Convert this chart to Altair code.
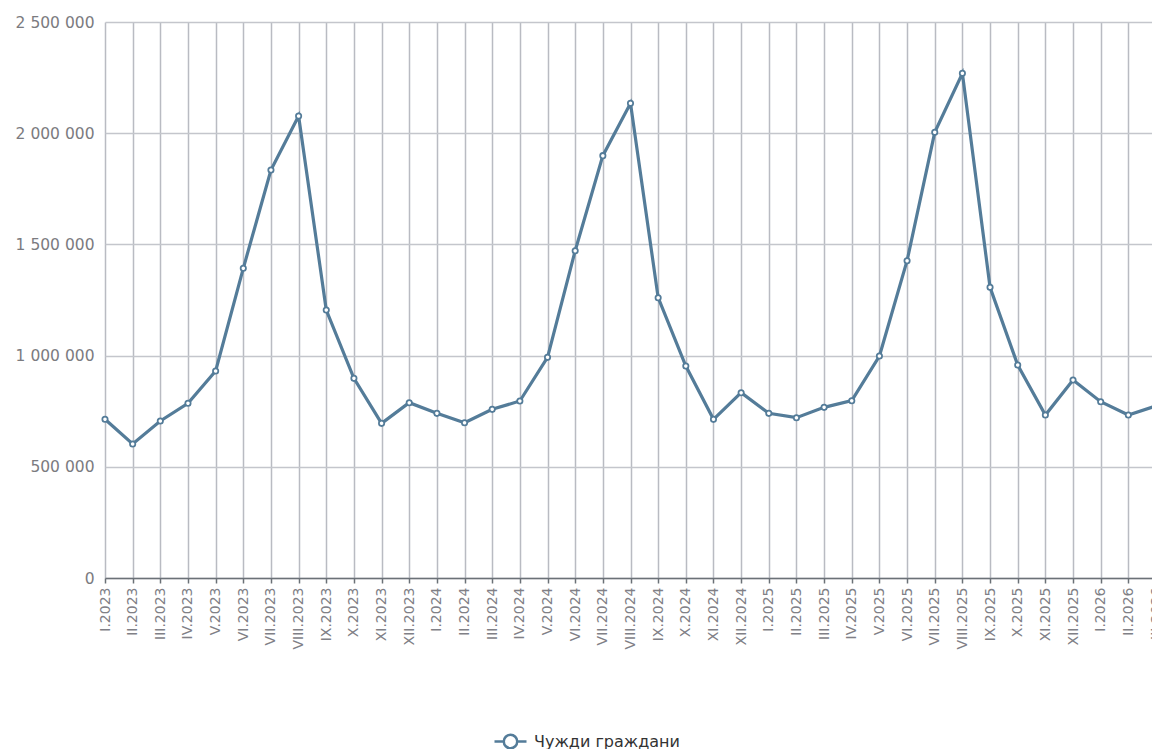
import altair as alt
import pandas as pd

roman = ["I", "II", "III", "IV", "V", "VI", "VII", "VIII", "IX", "X", "XI", "XII"]
years = [2023, 2024, 2025, 2026]
periods = [f"{m}.{y}" for y in years for m in roman][:39]

values = [
    713600, 602500, 706000, 785400, 930700, 1392500, 1834500, 2077300, 1205000, 897800, 695400, 788300,
    740400, 698400, 758400, 795800, 992200, 1471700, 1899000, 2134300, 1260400, 953200, 713400, 833300,
    740400, 720900, 767400, 797300, 998200, 1426800, 2003800, 2269100, 1307000, 957700, 732900, 890300,
    792800, 732900, 773400,
]
series_name = "Чужди граждани"
y_ticks = [0, 500000, 1000000, 1500000, 2000000, 2500000]

LINE_COLOR = "#547c99"

df = pd.DataFrame({"period": periods, "value": values, "series": series_name})

x_enc = alt.X(
    "period:N",
    sort=periods,
    scale=alt.Scale(padding=0, range=[0, 1051]),
    axis=alt.Axis(
        title=None,
        labelAngle=270,
        labelFontSize=14,
        labelColor="#808086",
        labelPadding=4,
        tickColor="#6b7177",
        tickSize=5,
        tickWidth=1.5,
        domainColor="#6b7177",
        domainWidth=1.5,
        grid=True,
        gridColor="#b9bbc2",
        gridWidth=1.5,
    ),
)
y_enc = alt.Y(
    "value:Q",
    scale=alt.Scale(domain=[0, 2500000], nice=False),
    axis=alt.Axis(
        title=None,
        values=y_ticks,
        labelExpr="replace(format(datum.value, ','), /,/g, ' ')",
        labelFontSize=15.5,
        labelColor="#7b7b80",
        labelPadding=11,
        ticks=False,
        domain=False,
        grid=True,
        gridColor="#c4c6cc",
        gridWidth=1.5,
    ),
)

legend_symbol = "M-1,0H-0.42M0.42,0H1M0.42,0A0.42,0.42,0,1,1,-0.42,0A0.42,0.42,0,1,1,0.42,0Z"

line = alt.Chart(df).mark_line(strokeWidth=3.2, color=LINE_COLOR).encode(
    x=x_enc,
    y=y_enc,
    color=alt.Color(
        "series:N",
        scale=alt.Scale(range=[LINE_COLOR]),
        legend=alt.Legend(
            title=None,
            orient="none",
            legendX=388,
            legendY=702,
            symbolType=legend_symbol,
            symbolSize=1024,
            symbolFillColor="white",
            symbolStrokeColor=LINE_COLOR,
            symbolStrokeWidth=2.5,
            labelFontSize=16,
            labelColor="#333333",
            labelOffset=6,
        ),
    ),
)

points = alt.Chart(df).mark_point(
    shape="circle", filled=False, fill="white", stroke=LINE_COLOR, strokeWidth=1.8, size=28, opacity=1
).encode(x=x_enc, y=y_enc)

chart = (
    alt.layer(line, points)
    .properties(
        width=1047,
        height=556,
        autosize=alt.AutoSizeParams(type="none"),
        padding={"left": 97, "top": 14, "right": 0, "bottom": 174},
    )
    .configure(font="DejaVu Sans")
    .configure_view(stroke=None)
)

chart.save("out.html", embed_options={"renderer": "svg", "actions": False})
